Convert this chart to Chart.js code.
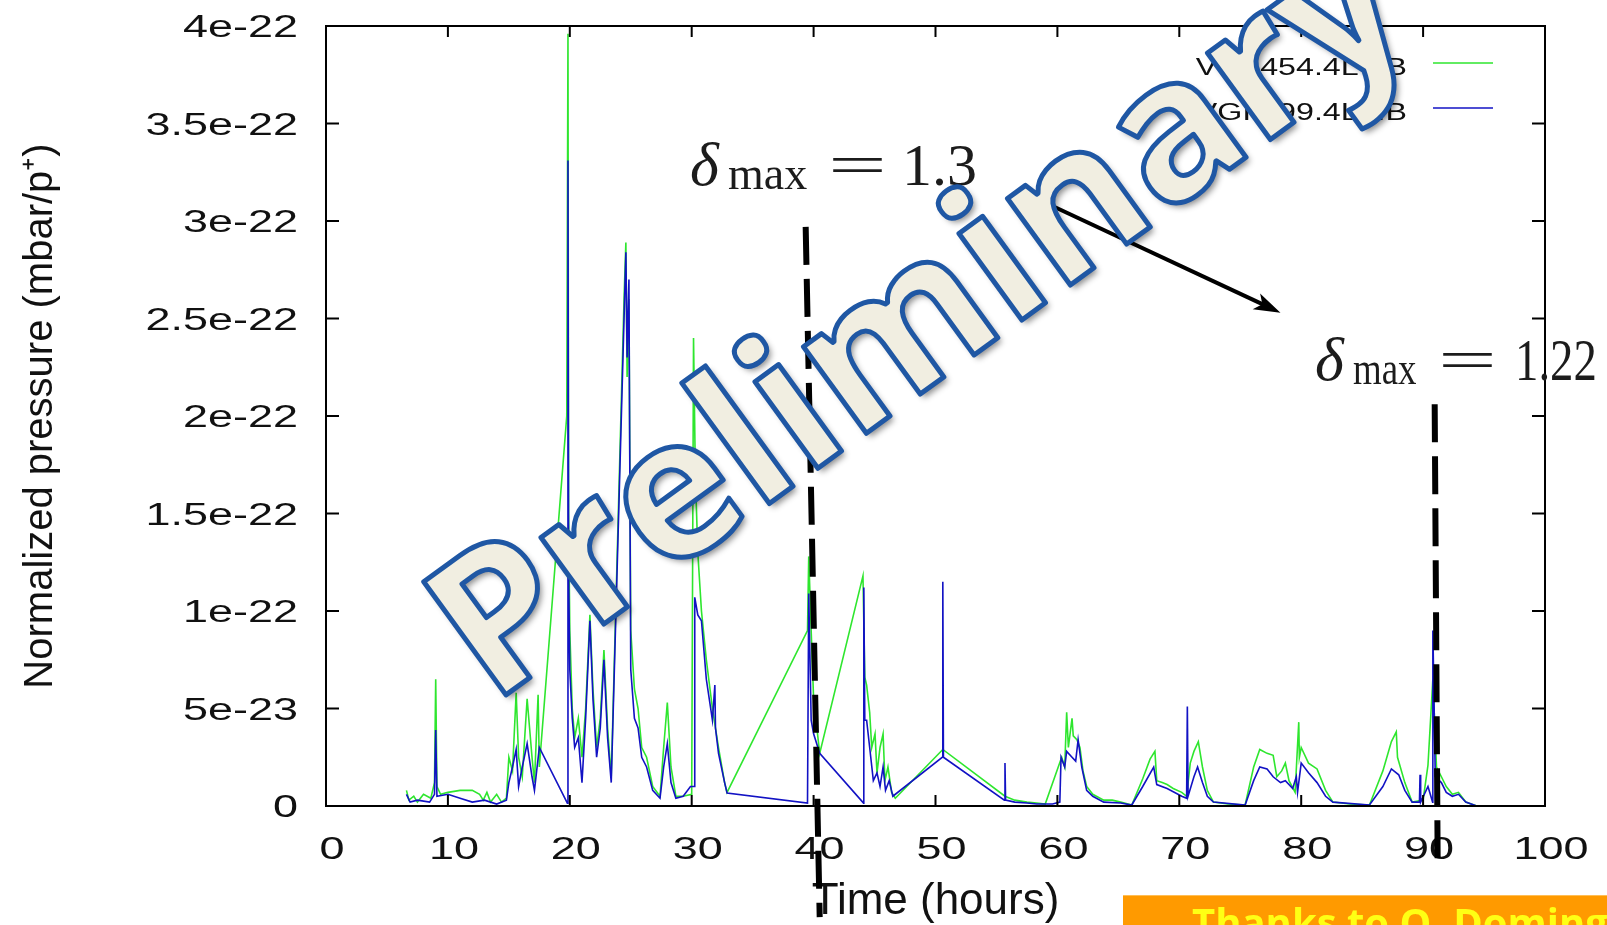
<!DOCTYPE html>
<html>
<head>
<meta charset="utf-8">
<script src="https://cdn.jsdelivr.net/npm/chart.js@4.4.1/dist/chart.umd.min.js"></script>
<style>
  html, body { margin: 0; padding: 0; background: #fff; }
  #wrap { position: relative; width: 1607px; height: 925px; overflow: hidden; }
  #note {
    position: absolute; left: 1123px; top: 895px; width: 484px; height: 40px;
    background: #ff9a00; border-top: 1px solid #ffbe55;
  }
  #note span {
    position: absolute; left: 69px; top: 6px; white-space: nowrap;
    font: 700 40px 'Open Sans', sans-serif; color: #ffff14; line-height: 40px;
  }
</style>
</head>
<body>
<div id="wrap">
  <canvas id="chart" width="1607" height="925"></canvas>
  <div id="note"><span>Thanks to O. Dominguez</span></div>
</div>
<script>
// time axis (hours) and normalized pressure, pressure in units of 1e-22 mbar/p+
const greenHours = [6.6, 6.8, 7.2, 7.5, 8.0, 8.6, 8.9, 9.0, 9.1, 9.4, 10.0, 11.0, 12.0, 12.6, 12.9, 13.2, 13.5, 14.0, 14.4, 14.8,
  15.0, 15.3, 15.6, 15.8, 16.1, 16.5, 16.9, 17.1, 17.4, 17.5, 19.75, 19.85, 19.9, 20.0, 20.2, 20.4, 20.7, 21.0, 21.3, 21.65,
  21.9, 22.2, 22.5, 22.8, 23.1, 23.4, 24.45, 24.6, 24.7, 24.85, 25.0, 25.3, 25.6, 25.9, 26.3, 26.8, 27.4, 27.7, 28.0, 28.3,
  28.7, 29.3, 30.0, 30.15, 30.3, 30.5, 30.8, 31.2, 31.7, 32.2, 32.7, 32.9, 39.5, 39.6, 39.8, 40.0, 40.5, 44.05, 44.2, 44.35,
  44.6, 44.77, 45.04, 45.2, 45.45, 45.7, 45.85, 46.1, 46.4, 46.7, 50.6, 55.7, 56.5, 57.5, 58.3, 59.0, 60.35, 60.6, 60.76, 60.9,
  61.2, 61.3, 61.6, 61.85, 62.1, 62.4, 62.9, 63.8, 64.5, 65.2, 66.1, 67.0, 67.6, 68.0, 68.15, 68.6, 69.0, 69.5, 70.2, 70.6,
  70.9, 71.2, 71.56, 71.9, 72.3, 72.8, 74.0, 75.4, 76.1, 76.6, 77.2, 77.7, 78.0, 78.4, 78.7, 79.0, 79.5, 79.8, 79.85, 80.0,
  80.6, 81.3, 82.0, 82.6, 84.0, 85.6, 86.7, 87.4, 87.8, 87.9, 88.5, 89.1, 90.0, 90.4, 90.8, 91.1, 91.5, 91.9, 92.4, 92.9,
  93.5, 94.4];
const greenP22 = [0.08, 0.03, 0.05, 0.02, 0.06, 0.04, 0.12, 0.65, 0.10, 0.06, 0.07, 0.08, 0.08, 0.06, 0.03, 0.07, 0.02, 0.06, 0.02, 0.04,
  0.25, 0.18, 0.58, 0.25, 0.15, 0.55, 0.25, 0.12, 0.57, 0.20, 2.00, 3.96, 1.50, 0.90, 0.50, 0.35, 0.45, 0.25, 0.50, 0.98,
  0.60, 0.30, 0.45, 0.80, 0.40, 0.15, 2.60, 2.89, 2.20, 2.60, 0.90, 0.60, 0.50, 0.30, 0.25, 0.10, 0.05, 0.30, 0.53, 0.20,
  0.05, 0.05, 0.06, 2.40, 1.70, 1.30, 1.00, 0.75, 0.50, 0.30, 0.12, 0.07, 0.90, 1.28, 0.90, 0.55, 0.27, 1.18, 0.66, 0.62,
  0.48, 0.30, 0.37, 0.17, 0.30, 0.37, 0.13, 0.20, 0.07, 0.04, 0.29, 0.05, 0.03, 0.02, 0.015, 0.01, 0.25, 0.20, 0.48, 0.30,
  0.45, 0.36, 0.34, 0.30, 0.18, 0.10, 0.06, 0.03, 0.03, 0.02, 0.005, 0.14, 0.24, 0.28, 0.13, 0.12, 0.11, 0.09, 0.07, 0.05,
  0.22, 0.28, 0.33, 0.20, 0.08, 0.02, 0.01, 0.005, 0.20, 0.29, 0.27, 0.26, 0.15, 0.18, 0.22, 0.13, 0.07, 0.43, 0.25, 0.30,
  0.22, 0.19, 0.08, 0.02, 0.01, 0.005, 0.18, 0.33, 0.38, 0.25, 0.12, 0.02, 0.03, 0.21, 0.65, 0.20, 0.15, 0.10, 0.06, 0.07,
  0.02, 0.00];

const blueHours = [6.6, 6.9, 7.5, 8.5, 8.9, 9.0, 9.1, 10.0, 11.0, 12.0, 13.0, 14.0, 14.8, 15.0, 15.3, 15.6, 15.8, 16.1, 16.5, 16.9,
  17.1, 17.5, 19.8, 19.85, 19.9, 20.0, 20.2, 20.4, 20.7, 21.0, 21.3, 21.65, 21.9, 22.2, 22.5, 22.8, 23.1, 23.4, 24.45, 24.6,
  24.7, 24.85, 25.0, 25.3, 25.6, 25.9, 26.3, 26.8, 27.4, 27.7, 28.0, 28.3, 28.7, 29.3, 29.9, 30.2, 30.25, 30.5, 30.8, 31.2,
  31.7, 31.9, 31.95, 32.2, 32.7, 32.9, 39.5, 39.6, 39.8, 40.0, 40.5, 44.1, 44.12, 44.2, 44.35, 44.6, 44.9, 45.2, 45.45, 45.7,
  45.9, 46.2, 46.5, 50.55, 50.6, 50.65, 55.65, 55.7, 55.75, 56.5, 57.5, 58.3, 59.6, 60.2, 60.3, 60.6, 60.76, 61.2, 61.5, 61.7,
  62.0, 62.4, 62.9, 63.8, 65.2, 66.1, 67.0, 67.9, 68.15, 69.0, 70.2, 70.6, 70.66, 70.72, 71.2, 71.5, 71.9, 72.3, 72.8, 75.4,
  76.1, 76.6, 77.2, 77.7, 78.3, 78.7, 79.3, 79.6, 79.7, 80.0, 80.6, 81.3, 82.0, 82.6, 85.6, 86.7, 87.4, 88.0, 88.5, 89.1,
  89.7, 89.75, 89.8, 90.4, 90.78, 90.8, 91.0, 91.5, 91.9, 92.4, 92.9, 93.5, 94.4];
const blueP22 = [0.06, 0.02, 0.03, 0.02, 0.06, 0.39, 0.05, 0.06, 0.04, 0.02, 0.03, 0.01, 0.03, 0.12, 0.20, 0.29, 0.10, 0.20, 0.32, 0.15,
  0.08, 0.30, 0.015, 3.31, 1.20, 0.70, 0.45, 0.30, 0.35, 0.12, 0.45, 0.95, 0.55, 0.25, 0.40, 0.75, 0.35, 0.12, 2.50, 2.84,
  2.30, 2.70, 0.70, 0.45, 0.40, 0.25, 0.20, 0.08, 0.04, 0.20, 0.32, 0.12, 0.04, 0.05, 0.10, 0.10, 1.07, 0.98, 0.95, 0.65,
  0.44, 0.62, 0.40, 0.27, 0.12, 0.066, 0.015, 1.09, 0.44, 0.37, 0.27, 0.015, 1.12, 0.44, 0.44, 0.30, 0.13, 0.17, 0.10, 0.20,
  0.08, 0.13, 0.05, 0.25, 1.15, 0.25, 0.03, 0.22, 0.03, 0.02, 0.015, 0.01, 0.01, 0.02, 0.25, 0.20, 0.28, 0.25, 0.23, 0.34,
  0.20, 0.08, 0.05, 0.02, 0.015, 0.005, 0.10, 0.20, 0.11, 0.09, 0.05, 0.04, 0.51, 0.05, 0.15, 0.20, 0.12, 0.05, 0.02, 0.005,
  0.13, 0.20, 0.19, 0.15, 0.12, 0.13, 0.09, 0.15, 0.07, 0.22, 0.17, 0.12, 0.05, 0.02, 0.005, 0.10, 0.19, 0.16, 0.08, 0.02,
  0.02, 0.16, 0.02, 0.10, 0.02, 0.90, 0.15, 0.12, 0.07, 0.05, 0.06, 0.02, 0.00];

const seriesLabels = ['VGI.454.4L7.B', 'VGI.199.4L8.B'];

const xTickValues = [0, 10, 20, 30, 40, 50, 60, 70, 80, 90, 100];
const xTickLabels = ['0', '10', '20', '30', '40', '50', '60', '70', '80', '90', '100'];
const yTickValues = [0, 0.5e-22, 1e-22, 1.5e-22, 2e-22, 2.5e-22, 3e-22, 3.5e-22, 4e-22];
const yTickLabels = ['0', '5e-23', '1e-22', '1.5e-22', '2e-22', '2.5e-22', '3e-22', '3.5e-22', '4e-22'];

// secondary electron yield marks: dashed line ends (hours, pressure) and label
const markerLines = [
  { x0: 39.35, y0: 2.97e-22, x1: 40.5, y1: -0.57e-22 },
  { x0: 90.95, y0: 2.06e-22, x1: 91.2, y1: -0.34e-22 }
];
const deltaLabels = [
  { value: '1.3', left: 690, base: 185, offsets: [0, 38, 138, 212], sx: 1.0 },
  { value: '1.22', left: 1315, base: 380, offsets: [0, 38, 123, 200], sx: 0.78 }
];
const arrowFrom = { x: 58.8, y: 3.10e-22 };
const arrowTo = { x: 78.3, y: 2.53e-22 };

const toPoints = (xs, ys) => xs.map((h, i) => ({ x: h, y: ys[i] * 1e-22 }));

const SANS = "'Liberation Sans', Arial, sans-serif";
const SERIF = "'Liberation Serif', 'Times New Roman', serif";

function stretchedText(ctx, text, x, y, align, sx) {
  ctx.save();
  ctx.translate(x, y);
  ctx.scale(sx, 1);
  ctx.textAlign = align;
  ctx.fillText(text, 0, 0);
  ctx.restore();
}

const decorations = {
  id: 'decorations',
  afterDraw(chart) {
    const { ctx, chartArea: a } = chart;
    const xs = chart.scales.x, ys = chart.scales.y;
    ctx.save();

    // frame with mirrored inward ticks
    ctx.strokeStyle = '#000';
    ctx.lineWidth = 2;
    ctx.strokeRect(a.left, a.top, a.right - a.left, a.bottom - a.top);
    ctx.beginPath();
    xTickValues.forEach(v => {
      const px = xs.getPixelForValue(v);
      ctx.moveTo(px, a.bottom); ctx.lineTo(px, a.bottom - 11);
      ctx.moveTo(px, a.top); ctx.lineTo(px, a.top + 11);
    });
    yTickValues.forEach(v => {
      const py = ys.getPixelForValue(v);
      ctx.moveTo(a.left, py); ctx.lineTo(a.left + 13, py);
      ctx.moveTo(a.right, py); ctx.lineTo(a.right - 13, py);
    });
    ctx.stroke();

    // tick labels
    ctx.fillStyle = '#111';
    ctx.font = `31px ${SANS}`;
    ctx.textBaseline = 'alphabetic';
    yTickValues.forEach((v, i) => {
      stretchedText(ctx, yTickLabels[i], 298, ys.getPixelForValue(v) + 11, 'right', 1.45);
    });
    xTickValues.forEach((v, i) => {
      stretchedText(ctx, xTickLabels[i], xs.getPixelForValue(v) + 6, a.bottom + 53, 'center', 1.45);
    });

    // key, text right aligned with line sample after it
    ctx.font = `23px ${SANS}`;
    chart.data.datasets.forEach((ds, i) => {
      const cy = 67 + i * 45;
      ctx.fillStyle = '#111';
      stretchedText(ctx, ds.label, 1407, cy + 8, 'right', 1.4);
      ctx.strokeStyle = ds.borderColor;
      ctx.lineWidth = 1.5;
      ctx.beginPath();
      ctx.moveTo(1433, cy - 4); ctx.lineTo(1493, cy - 4);
      ctx.stroke();
    });

    // delta_max labels
    ctx.fillStyle = '#1c1c1c';
    deltaLabels.forEach(d => {
      const [o0, o1, o2, o3] = d.offsets;
      ctx.font = `italic 62px ${SERIF}`;
      stretchedText(ctx, 'δ', d.left + o0, d.base, 'left', 1);
      ctx.font = `46px ${SERIF}`;
      stretchedText(ctx, 'max', d.left + o1, d.base + 4, 'left', 0.9 * d.sx + 0.1);
      ctx.font = `58px ${SERIF}`;
      stretchedText(ctx, '=', d.left + o2, d.base - 1, 'left', 1.8);
      ctx.font = `60px ${SERIF}`;
      stretchedText(ctx, d.value, d.left + o3, d.base, 'left', d.sx);
    });

    // dashed marker lines
    ctx.strokeStyle = '#000';
    ctx.lineWidth = 6;
    ctx.setLineDash([38, 14]);
    markerLines.forEach(m => {
      ctx.beginPath();
      ctx.moveTo(xs.getPixelForValue(m.x0), ys.getPixelForValue(m.y0));
      ctx.lineTo(xs.getPixelForValue(m.x1), ys.getPixelForValue(m.y1));
      ctx.stroke();
    });
    ctx.setLineDash([]);

    // arrow between the two labels
    const ax0 = xs.getPixelForValue(arrowFrom.x), ay0 = ys.getPixelForValue(arrowFrom.y);
    const ax1 = xs.getPixelForValue(arrowTo.x), ay1 = ys.getPixelForValue(arrowTo.y);
    const ang = Math.atan2(ay1 - ay0, ax1 - ax0);
    ctx.lineWidth = 4;
    ctx.beginPath();
    ctx.moveTo(ax0, ay0);
    ctx.lineTo(ax1 - 10 * Math.cos(ang), ay1 - 10 * Math.sin(ang));
    ctx.stroke();
    ctx.fillStyle = '#000';
    ctx.beginPath();
    ctx.moveTo(ax1, ay1);
    ctx.lineTo(ax1 - 28 * Math.cos(ang - 0.32), ay1 - 28 * Math.sin(ang - 0.32));
    ctx.lineTo(ax1 - 20 * Math.cos(ang), ay1 - 20 * Math.sin(ang));
    ctx.lineTo(ax1 - 28 * Math.cos(ang + 0.32), ay1 - 28 * Math.sin(ang + 0.32));
    ctx.closePath();
    ctx.fill();

    // watermark
    ctx.save();
    ctx.translate(956, 368);
    ctx.rotate(-36 * Math.PI / 180);
    ctx.font = `bold 196px 'Open Sans', sans-serif`;
    ctx.textAlign = 'center';
    ctx.textBaseline = 'alphabetic';
    ctx.lineJoin = 'round';
    ctx.shadowColor = 'rgba(0,0,0,0.45)';
    ctx.shadowBlur = 6;
    ctx.shadowOffsetX = 4;
    ctx.shadowOffsetY = 4;
    ctx.fillStyle = '#f1eee1';
    ctx.fillText('Preliminary', 0, 0);
    ctx.shadowColor = 'transparent';
    ctx.strokeStyle = '#1f57a4';
    ctx.lineWidth = 5;
    ctx.strokeText('Preliminary', 0, 0);
    ctx.restore();

    ctx.restore();
  }
};

new Chart(document.getElementById('chart'), {
  type: 'line',
  data: {
    datasets: [
      {
        label: seriesLabels[0],
        data: toPoints(greenHours, greenP22),
        borderColor: '#2ee62e',
        borderWidth: 1.6,
        pointRadius: 0,
        tension: 0,
        order: 1
      },
      {
        label: seriesLabels[1],
        data: toPoints(blueHours, blueP22),
        borderColor: '#1212c4',
        borderWidth: 1.6,
        pointRadius: 0,
        tension: 0,
        order: 0
      }
    ]
  },
  options: {
    responsive: false,
    animation: false,
    events: [],
    layout: { padding: { left: 0, right: 62, top: 26, bottom: 0 } },
    plugins: { legend: { display: false }, tooltip: { enabled: false } },
    scales: {
      x: {
        type: 'linear', min: 0, max: 100,
        grid: { display: false }, border: { display: false },
        ticks: { display: false, stepSize: 10 },
        title: {
          display: true, text: 'Time (hours)', color: '#111',
          font: { family: SANS, size: 44, lineHeight: 1 }, padding: { top: 0, bottom: 1 }
        },
        afterFit: s => { s.height = 119; }
      },
      y: {
        type: 'linear', min: 0, max: 4e-22,
        grid: { display: false }, border: { display: false },
        ticks: { display: false },
        title: {
          display: true, text: 'Normalized pressure (mbar/p⁺)', color: '#111',
          font: { family: SANS, size: 40 }, padding: { top: 17, bottom: 0 }
        },
        afterFit: s => { s.width = 326; }
      }
    }
  },
  plugins: [decorations]
});
</script>
</body>
</html>
